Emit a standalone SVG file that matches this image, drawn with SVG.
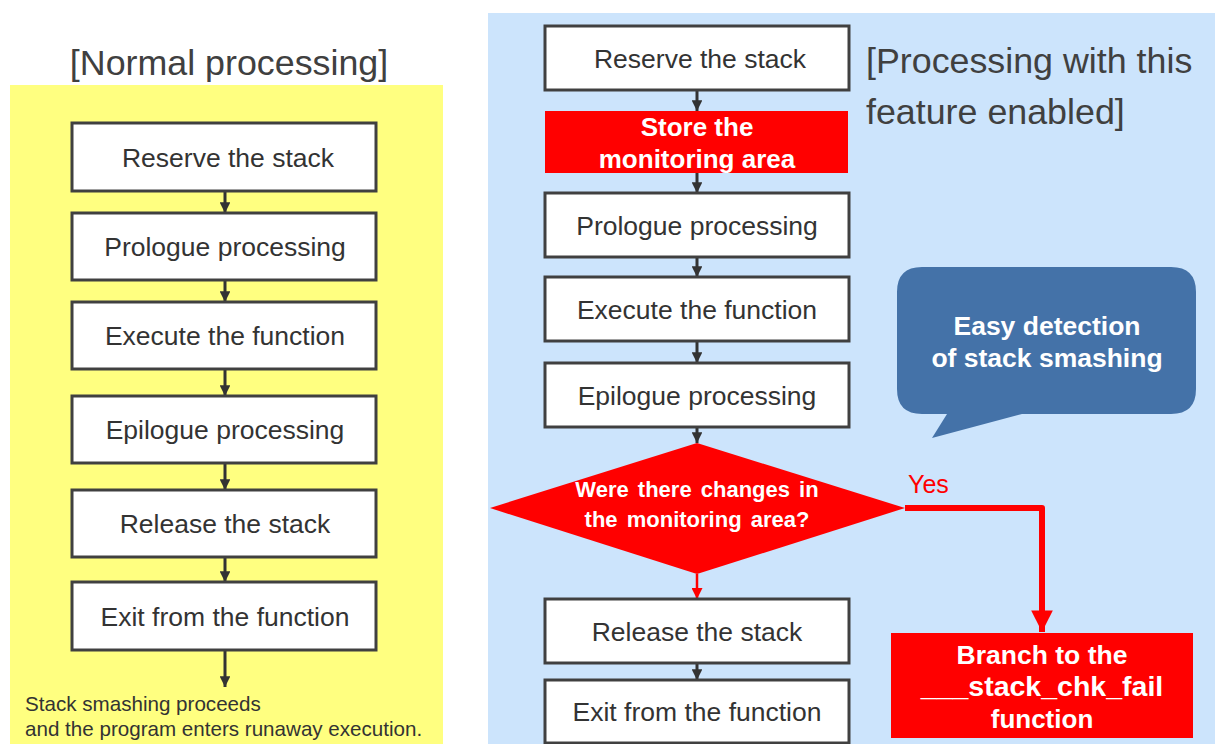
<svg xmlns="http://www.w3.org/2000/svg" width="1215" height="744" viewBox="0 0 1215 744">
  <defs>
    <style>
      .box { fill: #ffffff; stroke: #404040; stroke-width: 3; }
      .lbl { font-family: "Liberation Sans", Arial, sans-serif; font-size: 26.5px; fill: #333333; text-anchor: middle; }
      .hot { font-family: "Liberation Sans", Arial, sans-serif; font-weight: bold; fill: #ffffff; text-anchor: middle; }
      .title { font-family: "Liberation Sans", Arial, sans-serif; font-size: 35.8px; fill: #404040; }
      .note { font-family: "Liberation Sans", Arial, sans-serif; font-size: 20.6px; fill: #333333; }
      .flow { stroke: #333333; stroke-width: 3; fill: none; }
      .flow-red { stroke: #ff0000; stroke-width: 2.5; fill: none; }
      .flow-yes { stroke: #ff0000; stroke-width: 6; fill: none; stroke-linejoin: round; }
    </style>
    <marker id="ah" viewBox="0 0 10 10" refX="10" refY="5" markerWidth="4" markerHeight="3.6" markerUnits="strokeWidth" orient="auto">
      <path d="M0,0 L10,5 L0,10 Z" fill="#333333"/>
    </marker>
    <marker id="ahr" viewBox="0 0 10 10" refX="10" refY="5" markerWidth="4.4" markerHeight="4.4" markerUnits="strokeWidth" orient="auto">
      <path d="M0,0 L10,5 L0,10 Z" fill="#ff0000"/>
    </marker>
    <marker id="ahy" viewBox="0 0 10 10" refX="10" refY="5" markerWidth="3.6" markerHeight="3.6" markerUnits="strokeWidth" orient="auto">
      <path d="M0,0 L10,5 L0,10 Z" fill="#ff0000"/>
    </marker>
  </defs>

  <!-- panel backgrounds -->
  <rect x="10" y="85" width="433" height="659" fill="#ffff80"/>
  <rect x="488" y="13" width="727" height="731" fill="#cce4fc"/>

  <!-- titles -->
  <text class="title" x="229" y="75" text-anchor="middle">[Normal processing]</text>
  <text class="title" x="866" y="73">[Processing with this</text>
  <text class="title" x="866" y="124">feature enabled]</text>

  <!-- connectors -->
  <g id="connectors">
    <line class="flow" x1="225" y1="191" x2="225" y2="213" marker-end="url(#ah)"/>
    <line class="flow" x1="225" y1="280" x2="225" y2="302" marker-end="url(#ah)"/>
    <line class="flow" x1="225" y1="369" x2="225" y2="396" marker-end="url(#ah)"/>
    <line class="flow" x1="225" y1="463" x2="225" y2="490" marker-end="url(#ah)"/>
    <line class="flow" x1="225" y1="557" x2="225" y2="582" marker-end="url(#ah)"/>
    <line class="flow" x1="225" y1="650" x2="225" y2="687" marker-end="url(#ah)"/>

    <line class="flow" x1="697" y1="90" x2="697" y2="111" marker-end="url(#ah)"/>
    <line class="flow" x1="697" y1="173" x2="697" y2="193" marker-end="url(#ah)"/>
    <line class="flow" x1="697" y1="257" x2="697" y2="277" marker-end="url(#ah)"/>
    <line class="flow" x1="697" y1="341" x2="697" y2="363" marker-end="url(#ah)"/>
    <line class="flow" x1="697" y1="427" x2="697" y2="443" marker-end="url(#ah)"/>
    <line class="flow-red" x1="697" y1="574" x2="697" y2="599" marker-end="url(#ahr)"/>
    <line class="flow" x1="697" y1="663" x2="697" y2="680" marker-end="url(#ah)"/>
    <path class="flow-yes" d="M905,508 H1042 V632" marker-end="url(#ahy)"/>
    <text x="908" y="493" font-family="Liberation Sans, Arial, sans-serif" font-size="25" fill="#ff0000">Yes</text>
  </g>

  <!-- left column -->
  <g id="n-reserve-l"><rect class="box" x="72" y="123" width="304" height="68"/><text class="lbl" x="228" y="167">Reserve the stack</text></g>
  <g id="n-prologue-l"><rect class="box" x="72" y="213" width="304" height="67"/><text class="lbl" x="225" y="256">Prologue processing</text></g>
  <g id="n-execute-l"><rect class="box" x="72" y="302" width="304" height="67"/><text class="lbl" x="225" y="345">Execute the function</text></g>
  <g id="n-epilogue-l"><rect class="box" x="72" y="396" width="304" height="67"/><text class="lbl" x="225" y="439">Epilogue processing</text></g>
  <g id="n-release-l"><rect class="box" x="72" y="490" width="304" height="67"/><text class="lbl" x="225" y="533">Release the stack</text></g>
  <g id="n-exit-l"><rect class="box" x="72" y="582" width="304" height="68"/><text class="lbl" x="225" y="626">Exit from the function</text></g>
  <g id="n-runaway">
    <text class="note" x="25" y="711">Stack smashing proceeds</text>
    <text class="note" x="25" y="736">and the program enters runaway execution.</text>
  </g>

  <!-- right column -->
  <g id="n-reserve-r"><rect class="box" x="545" y="26" width="304" height="64"/><text class="lbl" x="700" y="68">Reserve the stack</text></g>
  <g id="n-store"><rect x="545" y="111" width="303" height="62" fill="#ff0000"/>
    <text class="hot" font-size="26" x="697" y="136">Store the</text>
    <text class="hot" font-size="26" x="697" y="168">monitoring area</text></g>
  <g id="n-prologue-r"><rect class="box" x="545" y="193" width="304" height="64"/><text class="lbl" x="697" y="235">Prologue processing</text></g>
  <g id="n-execute-r"><rect class="box" x="545" y="277" width="304" height="64"/><text class="lbl" x="697" y="319">Execute the function</text></g>
  <g id="n-epilogue-r"><rect class="box" x="545" y="363" width="304" height="64"/><text class="lbl" x="697" y="405">Epilogue processing</text></g>
  <g id="n-check"><polygon points="697,443 905,508 697,574 490,508" fill="#ff0000"/>
    <text class="hot" font-size="22" x="697" y="497" word-spacing="3">Were there changes in</text>
    <text class="hot" font-size="22" x="697" y="527" word-spacing="3">the monitoring area?</text></g>
  <g id="n-release-r"><rect class="box" x="545" y="599" width="304" height="64"/><text class="lbl" x="697" y="641">Release the stack</text></g>
  <g id="n-exit-r"><rect class="box" x="545" y="680" width="304" height="63"/><text class="lbl" x="697" y="721">Exit from the function</text></g>
  <g id="n-branch"><rect x="891" y="633" width="302" height="105" fill="#ff0000"/>
    <text class="hot" font-size="26.5" x="1042" y="664">Branch to the</text>
    <text class="hot" font-size="28.5" x="1042" y="696">___stack_chk_fail</text>
    <text class="hot" font-size="26" x="1042" y="728">function</text></g>

  <!-- callout -->
  <g id="n-callout">
    <path d="M922,267 H1171 Q1196,267 1196,292 V389 Q1196,414 1171,414 H1022 L932,438 L947,414 H922 Q897,414 897,389 V292 Q897,267 922,267 Z" fill="#4472a8"/>
    <text class="hot" font-size="26.5" x="1047" y="335">Easy detection</text>
    <text class="hot" font-size="26.5" x="1047" y="367">of stack smashing</text>
  </g>
</svg>
